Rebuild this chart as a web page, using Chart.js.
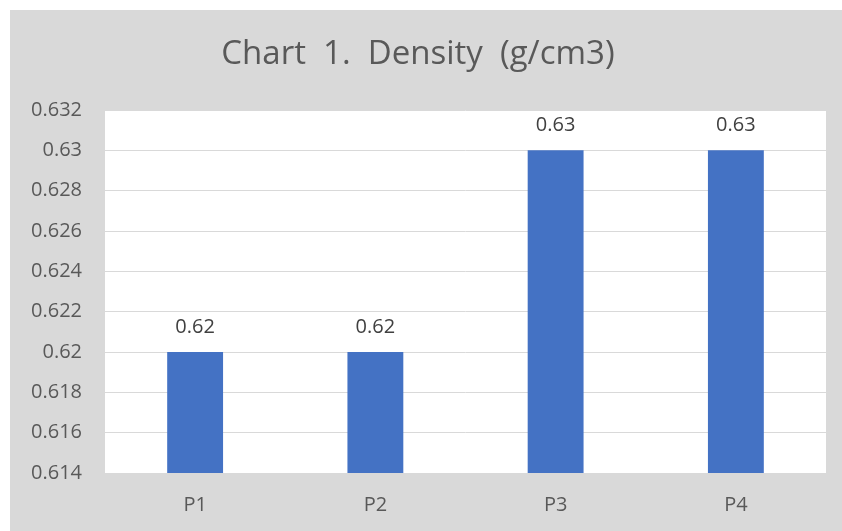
<!DOCTYPE html>
<html>
<head>
<meta charset="utf-8">
<script src="https://cdn.jsdelivr.net/npm/chart.js@4"></script>
<style>
  html, body { margin: 0; padding: 0; background: #ffffff; }
  #chart { position: absolute; left: 10px; top: 10px; }
</style>
</head>
<body>
<canvas id="chart" width="832" height="521"></canvas>
<script>
// data
const categories = ['P1', 'P2', 'P3', 'P4'];
const density = [0.62, 0.62, 0.63, 0.63];
const yMin = 0.614;
const yMax = 0.632;
const yStep = 0.002;

const FONT = "'Open Sans', 'Liberation Sans', sans-serif";

// grey frame + white plot area
const bgPlugin = {
  id: 'bg',
  beforeDraw(chart) {
    const { ctx, chartArea: a } = chart;
    ctx.save();
    ctx.fillStyle = '#d9d9d9';
    ctx.fillRect(0, 0, chart.width, chart.height);
    ctx.fillStyle = '#ffffff';
    ctx.fillRect(a.left, a.top, a.right - a.left, a.bottom - a.top);
    ctx.restore();
  }
};

// value labels above the bars
const labelPlugin = {
  id: 'valueLabels',
  afterDatasetsDraw(chart) {
    const { ctx } = chart;
    const meta = chart.getDatasetMeta(0);
    ctx.save();
    ctx.font = '20px ' + FONT;
    ctx.fillStyle = '#404040';
    ctx.textAlign = 'center';
    ctx.textBaseline = 'middle';
    meta.data.forEach((bar, i) => {
      ctx.fillText(String(density[i]), bar.x, bar.y - 25);
    });
    ctx.restore();
  }
};

new Chart(document.getElementById('chart'), {
  type: 'bar',
  data: {
    labels: categories,
    datasets: [{
      data: density,
      backgroundColor: '#4472c4',
      borderWidth: 0,
      categoryPercentage: 1,
      barPercentage: 0.31
    }]
  },
  options: {
    responsive: false,
    animation: false,
    layout: { padding: { left: 0, right: 16, top: 0, bottom: 0 } },
    plugins: {
      legend: { display: false },
      tooltip: { enabled: false },
      title: {
        display: true,
        text: 'Chart  1.  Density  (g/cm3)',
        color: '#595959',
        font: { family: FONT, size: 33, weight: 'normal' },
        padding: { top: 25, bottom: 35.4 }
      }
    },
    scales: {
      x: {
        grid: { display: false },
        border: { display: false },
        ticks: {
          color: '#595959',
          font: { family: FONT, size: 20 },
          padding: 12
        },
        afterFit(scale) { scale.height = 58; }
      },
      y: {
        min: yMin,
        max: yMax,
        grid: { color: '#d9d9d9', lineWidth: 1, drawTicks: false },
        border: { display: false },
        ticks: {
          stepSize: yStep,
          color: '#595959',
          font: { family: FONT, size: 20 },
          padding: 23,
          callback: v => String(+v.toFixed(3))
        },
        afterFit(scale) { scale.width = 95; }
      }
    }
  },
  plugins: [bgPlugin, labelPlugin]
});
</script>
</body>
</html>
